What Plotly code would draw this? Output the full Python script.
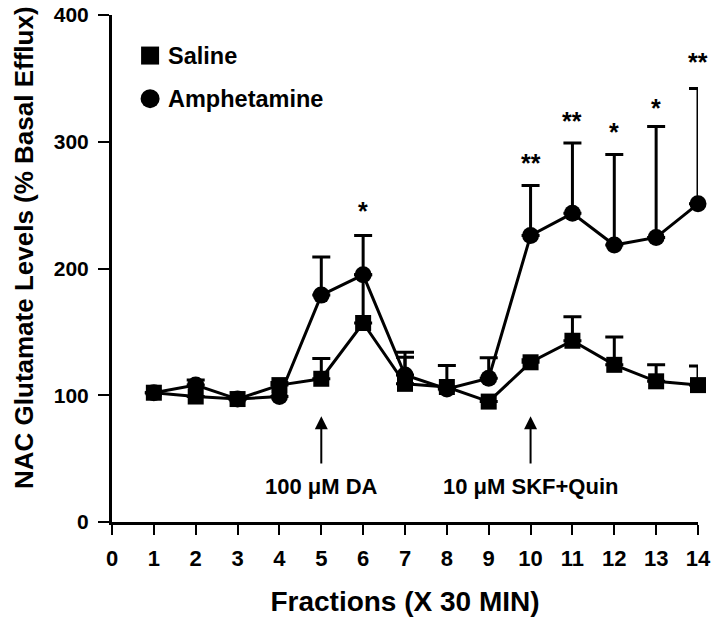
import plotly.graph_objects as go

fractions = list(range(1, 15))
saline = [102, 99, 97, 108, 113, 157, 109, 106.5, 95, 126, 143, 124, 111, 108]
saline_err = [0, 0, 0, 2, 16, 38, 21, 17, 0, 2, 19, 22, 13, 15]
amph = [102, 108, 97, 99, 179, 195, 116, 105, 113.5, 226, 243.5, 218.5, 224.5, 251]
amph_err = [0, 4, 0, 0, 30, 31, 18, 0, 16, 39.5, 55.5, 71.5, 87.5, 91]
sig_x = [6, 10, 11, 12, 13, 14]
sig_y = [245, 283, 316, 308, 327, 363]
sig_txt = ["*", "**", "**", "*", "*", "**"]
xticks = list(range(0, 15))
yticks = [0, 100, 200, 300, 400]

FONT = "Liberation Sans"
W, H = 720, 623
L, R, T, B = 112, 22, 15, 101

fig = go.Figure()
fig.add_trace(go.Scatter(
    x=fractions, y=amph, mode="lines+markers", name="Amphetamine",
    line=dict(color="black", width=3),
    marker=dict(symbol="circle", size=17, color="black"),
    error_y=dict(type="data", array=amph_err, symmetric=False, arrayminus=[0]*14,
                 color="black", thickness=3, width=9),
    showlegend=False, cliponaxis=False,
))
fig.add_trace(go.Scatter(
    x=fractions, y=saline, mode="lines+markers", name="Saline",
    line=dict(color="black", width=3),
    marker=dict(symbol="square", size=16, color="black"),
    error_y=dict(type="data", array=saline_err, symmetric=False, arrayminus=[0]*14,
                 color="black", thickness=3, width=9),
    showlegend=False, cliponaxis=False,
))

# significance asterisks
for xs, ys, t in zip(sig_x, sig_y, sig_txt):
    fig.add_annotation(x=xs, y=ys, text=t, showarrow=False,
                       font=dict(family=FONT, size=25, color="black", weight="bold"),
                       xanchor="center", yanchor="middle")

# arrows + labels
for xa, lab in [(5, "100 μM DA"), (10, "10 μM SKF+Quin")]:
    fig.add_annotation(x=xa, y=83.5, ax=xa, ay=45, xref="x", yref="y", axref="x", ayref="y",
                       text="", showarrow=True, arrowhead=2, arrowsize=1.3,
                       arrowwidth=2, arrowcolor="black")
    fig.add_annotation(x=xa, y=28, text=lab, showarrow=False,
                       font=dict(family=FONT, size=22, color="black", weight="bold"),
                       xanchor="center", yanchor="middle")

# legend (drawn manually)
fig.add_trace(go.Scatter(x=[0.91], y=[368], mode="markers",
                         marker=dict(symbol="square", size=18, color="black"),
                         showlegend=False, hoverinfo="skip", cliponaxis=False))
fig.add_trace(go.Scatter(x=[0.91], y=[334], mode="markers",
                         marker=dict(symbol="circle", size=19, color="black"),
                         showlegend=False, hoverinfo="skip", cliponaxis=False))
fig.add_annotation(x=1.28, y=368, text="Saline", showarrow=False, xanchor="left",
                   font=dict(family=FONT, size=23.5, color="black", weight="bold"))
fig.add_annotation(x=1.28, y=334, text="Amphetamine", showarrow=False, xanchor="left",
                   font=dict(family=FONT, size=23.5, color="black", weight="bold"))

# y-axis title as rotated annotation (placed like the reference)
pw, ph = W - L - R, H - T - B
fig.add_annotation(xref="paper", yref="paper",
                   x=(24 - L) / pw, y=(H - B - 248) / ph,
                   text="NAC Glutamate Levels (% Basal Efflux)", textangle=-90,
                   showarrow=False, xanchor="center", yanchor="middle",
                   font=dict(family=FONT, size=26, color="black", weight="bold"))

fig.update_layout(
    width=W, height=H,
    margin=dict(l=L, r=R, t=T, b=B),
    paper_bgcolor="white", plot_bgcolor="white",
    font=dict(family=FONT, color="black"),
)
fig.update_xaxes(
    range=[0, 14], tickvals=xticks, ticktext=[str(v) for v in xticks],
    showgrid=False, zeroline=False, showline=True, linecolor="black", linewidth=3,
    ticks="outside", ticklen=10, tickwidth=2, tickcolor="black", automargin=False,
    ticklabelstandoff=5,
    tickfont=dict(family=FONT, size=22, color="black", weight="bold"),
    title=dict(text="Fractions (X 30 MIN)", standoff=21,
               font=dict(family=FONT, size=28, color="black", weight="bold")),
)
fig.update_yaxes(
    range=[0, 400], tickvals=yticks, ticktext=[str(v) for v in yticks],
    showgrid=False, zeroline=False, showline=True, linecolor="black", linewidth=3,
    ticks="outside", ticklen=11, tickwidth=2, tickcolor="black", automargin=False,
    ticklabelstandoff=5, ticklabeloverflow="allow",
    tickfont=dict(family=FONT, size=21, color="black", weight="bold"),
)

fig.write_html("out.html", config={"displayModeBar": False},
               post_script="document.body.style.margin='0';document.body.style.overflow='hidden';")
